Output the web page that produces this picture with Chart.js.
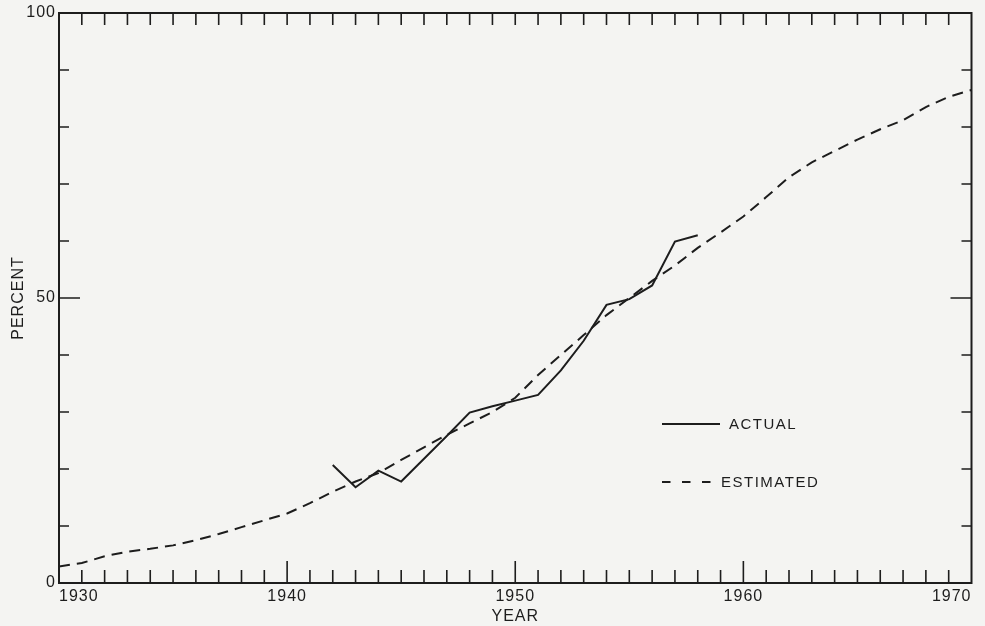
<!DOCTYPE html>
<html>
<head>
<meta charset="utf-8">
<script src="https://cdn.jsdelivr.net/npm/chart.js@4.4.0/dist/chart.umd.min.js"></script>
<style>
  html, body { margin: 0; padding: 0; background: #f4f4f2; }
  #wrap { width: 985px; height: 626px; position: relative; }
</style>
</head>
<body>
<div id="wrap"><canvas id="c" width="985" height="626"></canvas></div>
<script>
// ---- data ----
const years = [1930, 1931, 1932, 1933, 1934, 1935, 1936, 1937, 1938, 1939,
               1940, 1941, 1942, 1943, 1944, 1945, 1946, 1947, 1948, 1949,
               1950, 1951, 1952, 1953, 1954, 1955, 1956, 1957, 1958, 1959,
               1960, 1961, 1962, 1963, 1964, 1965, 1966, 1967, 1968, 1969, 1970];
const estimated = [2.9, 3.5, 4.7, 5.5, 6.0, 6.6, 7.5, 8.6, 9.8, 11.0,
                   12.2, 14.0, 16.0, 17.8, 19.3, 21.6, 23.8, 26.0, 28.0, 30.0,
                   32.5, 36.5, 40.0, 43.5, 47.0, 50.0, 53.0, 55.7, 58.8, 61.5,
                   64.3, 67.7, 71.2, 73.8, 75.8, 77.8, 79.6, 81.2, 83.5, 85.3, 86.5];
const actualYears = [1942, 1943, 1944, 1945, 1946, 1947, 1948, 1949, 1950,
                     1951, 1952, 1953, 1954, 1955, 1956, 1957, 1958];
const actualValues = [20.7, 16.8, 19.7, 17.8, 21.8, 25.8, 29.9, 31.0, 32.0,
                      33.0, 37.3, 42.5, 48.8, 49.8, 52.2, 59.9, 61.0];
const xTickLabels = [1930, 1940, 1950, 1960, 1970];
const yTickLabels = [0, 50, 100];
const seriesNames = ['ACTUAL', 'ESTIMATED'];
const axisTitleX = 'YEAR';
const axisTitleY = 'PERCENT';

// ---- styling ----
const INK = '#1d1d1d';
const FONT = 'Liberation Sans, Arial, sans-serif';

const spacingPlugin = {
  id: 'spacing',
  beforeDraw(chart) { chart.ctx.letterSpacing = '1px'; }
};

const framePlugin = {
  id: 'frame',
  afterDatasetsDraw(chart) {
    const { ctx, chartArea: { left, right, top, bottom }, scales: { x, y } } = chart;
    ctx.save();
    ctx.strokeStyle = INK;
    ctx.lineWidth = 2;
    ctx.strokeRect(left, top, right - left, bottom - top);
    ctx.lineWidth = 1.6;
    ctx.beginPath();
    for (let yr = x.min + 1; yr < x.max; yr++) {
      const px = x.getPixelForValue(yr);
      const major = yr % 10 === 0;
      ctx.moveTo(px, bottom); ctx.lineTo(px, bottom - (major ? 22 : 13));
      ctx.moveTo(px, top); ctx.lineTo(px, top + 12);
    }
    for (let v = y.min + 10; v < y.max; v += 10) {
      const py = y.getPixelForValue(v);
      const len = v === 50 ? 21 : 10;
      ctx.moveTo(left, py); ctx.lineTo(left + len, py);
      ctx.moveTo(right, py); ctx.lineTo(right - len, py);
    }
    ctx.stroke();
    ctx.restore();
  }
};

const legendPlugin = {
  id: 'inlineLegend',
  afterDraw(chart) {
    const { ctx } = chart;
    const ds = chart.data.datasets;
    ctx.save();
    ctx.letterSpacing = '1.5px';
    ctx.font = '15px ' + FONT;
    ctx.fillStyle = INK;
    ctx.textBaseline = 'middle';
    ctx.strokeStyle = INK;
    ctx.lineWidth = 2;
    // ACTUAL
    ctx.setLineDash([]);
    ctx.beginPath(); ctx.moveTo(662, 424); ctx.lineTo(720, 424); ctx.stroke();
    ctx.fillText(ds[0].label, 729, 425);
    // ESTIMATED
    ctx.setLineDash([8.5, 11.5]);
    ctx.beginPath(); ctx.moveTo(662, 482); ctx.lineTo(712, 482); ctx.stroke();
    ctx.setLineDash([]);
    ctx.fillText(ds[1].label, 721, 483);
    ctx.restore();
  }
};

new Chart(document.getElementById('c'), {
  type: 'line',
  data: {
    datasets: [
      {
        label: seriesNames[0],
        data: actualYears.map((yr, i) => ({ x: yr, y: actualValues[i] })),
        borderColor: INK, borderWidth: 2, pointRadius: 0, tension: 0, fill: false
      },
      {
        label: seriesNames[1],
        data: years.map((yr, i) => ({ x: yr, y: estimated[i] })),
        borderColor: INK, borderWidth: 2, borderDash: [11, 7], pointRadius: 0, tension: 0, fill: false
      }
    ]
  },
  options: {
    responsive: false,
    animation: false,
    devicePixelRatio: 1,
    layout: { padding: { left: 0, top: 13, right: 13.5, bottom: 0 } },
    plugins: { legend: { display: false }, tooltip: { enabled: false } },
    scales: {
      x: {
        type: 'linear',
        min: xTickLabels[0], max: xTickLabels[xTickLabels.length - 1],
        afterFit(s) { s.height = 43; },
        afterBuildTicks(s) { s.ticks = xTickLabels.map(v => ({ value: v })); },
        grid: { display: false, drawTicks: false },
        border: { display: false },
        ticks: {
          align: 'inner', padding: 4, color: INK, maxRotation: 0,
          font: { family: FONT, size: 16 },
          callback: v => String(v)
        },
        title: {
          display: true, text: axisTitleX, color: INK,
          font: { family: FONT, size: 16 }, padding: { top: 0, bottom: 0 }
        }
      },
      y: {
        type: 'linear',
        min: yTickLabels[0], max: yTickLabels[yTickLabels.length - 1],
        afterFit(s) { s.width = 59; },
        afterBuildTicks(s) { s.ticks = yTickLabels.map(v => ({ value: v })); },
        grid: { display: false, drawTicks: false },
        border: { display: false },
        ticks: {
          padding: 3, color: INK,
          font: { family: FONT, size: 16 },
          callback: v => String(v)
        },
        title: {
          display: true, text: axisTitleY, color: INK,
          font: { family: FONT, size: 16 }, padding: { top: 9, bottom: 0 }
        }
      }
    }
  },
  plugins: [spacingPlugin, framePlugin, legendPlugin]
});
</script>
</body>
</html>
